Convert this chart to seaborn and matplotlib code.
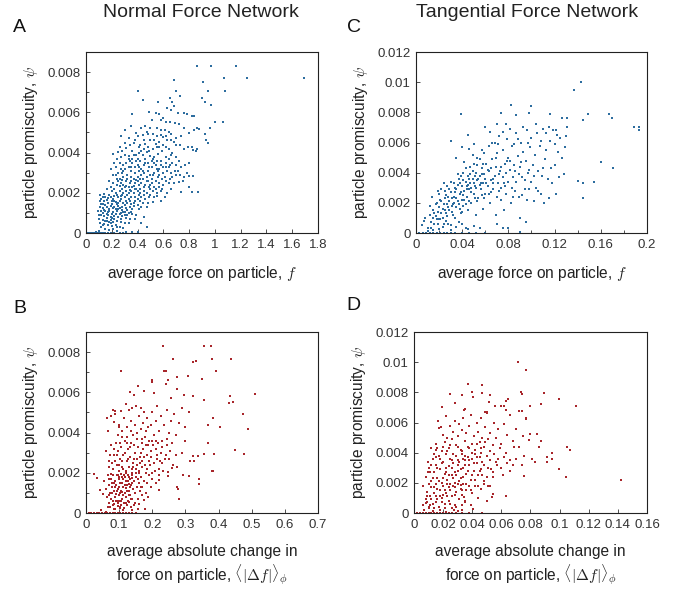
import matplotlib

matplotlib.use("Agg")
import matplotlib.pyplot as plt
import numpy as np
import pandas as pd
import seaborn as sns
from matplotlib.ticker import FuncFormatter, MultipleLocator

myBlue = "#2d6d9f"
myRed = "#a8262b"

# values: (force, promiscuity in units of 1e-3)
normal_force_pts = [
    (0.86, 8.3), (0.97, 8.3), (1.16, 8.3), (1.07, 7.7), (1.25, 7.7), (1.69, 7.7),
    (0.91, 7.5), (0.68, 7.6), (0.40, 7.05), (0.70, 7.05), (0.95, 7.05), (1.08, 7.05),
    (0.44, 6.6), (0.73, 6.8), (0.90, 6.7), (0.92, 6.5), (0.97, 6.35), (0.67, 6.5),
    (0.65, 6.7), (0.63, 6.2), (0.66, 6.1), (0.68, 6.3), (0.56, 6.5), (0.36, 5.9),
    (0.49, 6.0), (0.54, 5.95), (0.57, 5.9), (0.60, 5.7), (0.71, 5.95), (0.76, 5.95),
    (0.78, 5.9), (0.82, 5.8), (0.84, 5.8), (1.00, 5.5), (1.06, 5.5), (0.96, 5.2),
    (0.86, 5.2), (0.84, 5.1), (0.88, 5.15), (0.80, 4.95), (0.76, 5.2), (0.72, 5.4),
    (0.69, 5.45), (0.65, 5.5), (0.62, 5.5), (0.58, 5.6), (0.51, 5.6), (0.46, 5.3),
    (0.43, 5.2), (0.35, 5.3), (0.30, 5.1), (0.27, 4.8), (0.39, 4.95), (0.33, 4.7),
    (0.40, 4.8), (0.44, 4.85), (0.48, 4.9), (0.52, 4.9), (0.55, 4.8), (0.58, 4.85),
    (0.60, 4.75), (0.62, 4.8), (0.63, 4.6), (0.66, 4.6), (0.68, 4.55), (0.70, 4.4),
    (0.73, 4.4), (0.76, 4.2), (0.82, 4.3), (0.83, 4.15), (0.85, 4.1), (0.86, 4.2),
    (0.92, 4.9), (0.93, 4.6), (0.95, 4.5), (0.57, 4.55), (0.54, 4.45), (0.50, 4.6),
    (0.46, 4.45), (0.42, 4.4), (0.37, 4.5), (0.34, 4.4), (0.31, 4.25), (0.28, 4.1),
    (0.25, 4.05), (0.21, 3.95), (0.19, 3.2), (0.22, 3.5), (0.24, 3.7), (0.27, 3.8),
    (0.30, 3.9), (0.33, 3.85), (0.36, 3.7), (0.39, 3.9), (0.41, 4.0), (0.44, 3.9),
    (0.47, 4.05), (0.50, 3.85), (0.53, 3.8), (0.56, 3.95), (0.59, 4.1), (0.62, 3.8),
    (0.64, 3.7), (0.67, 3.5), (0.70, 3.4), (0.74, 3.3), (0.77, 3.4), (0.80, 3.5),
    (0.70, 2.9), (0.73, 2.9), (0.76, 2.8), (0.80, 2.85), (0.83, 2.85), (0.72, 2.55),
    (0.75, 2.6), (0.80, 2.3), (0.74, 2.05), (0.82, 2.05), (0.87, 2.05), (0.66, 2.2),
    (0.63, 2.0), (0.61, 1.8), (0.58, 1.6), (0.55, 1.85), (0.52, 1.55), (0.47, 1.3),
    (0.45, 0.8), (0.43, 0.5), (0.36, 3.5), (0.38, 3.3), (0.40, 3.4), (0.42, 3.6),
    (0.45, 3.4), (0.48, 3.5), (0.51, 3.3), (0.54, 3.4), (0.57, 3.2), (0.60, 3.3),
    (0.63, 3.1), (0.66, 3.0), (0.58, 3.6), (0.55, 3.6), (0.52, 3.7), (0.46, 3.7),
    (0.43, 3.2), (0.41, 3.1), (0.38, 3.0), (0.35, 3.1), (0.33, 3.3), (0.31, 3.5),
    (0.29, 3.4), (0.27, 3.2), (0.25, 3.0), (0.23, 2.9), (0.26, 2.7), (0.29, 2.8),
    (0.32, 2.9), (0.35, 2.8), (0.37, 2.7), (0.40, 2.8), (0.43, 2.9), (0.45, 3.0),
    (0.48, 3.1), (0.50, 2.9), (0.53, 3.0), (0.56, 2.8), (0.59, 2.7), (0.62, 2.6),
    (0.65, 2.7), (0.68, 2.5), (0.60, 2.4), (0.57, 2.5), (0.54, 2.6), (0.51, 2.5),
    (0.48, 2.6), (0.46, 2.4), (0.43, 2.5), (0.41, 2.4), (0.38, 2.5), (0.36, 2.3),
    (0.34, 2.5), (0.31, 2.6), (0.29, 2.4), (0.27, 2.5), (0.24, 2.4), (0.22, 2.2),
    (0.20, 2.1), (0.23, 2.0), (0.26, 2.1), (0.28, 2.2), (0.31, 2.1), (0.33, 2.0),
    (0.35, 2.1), (0.37, 2.0), (0.40, 2.1), (0.42, 2.2), (0.45, 2.1), (0.47, 2.0),
    (0.50, 2.2), (0.52, 2.1), (0.55, 2.0), (0.58, 2.1), (0.49, 1.8), (0.46, 1.7),
    (0.43, 1.8), (0.40, 1.7), (0.38, 1.8), (0.35, 1.8), (0.33, 1.7), (0.30, 1.8),
    (0.28, 1.9), (0.25, 1.8), (0.22, 1.85), (0.19, 1.8), (0.17, 1.75), (0.15, 1.8),
    (0.13, 1.8), (0.11, 1.6), (0.14, 1.6), (0.17, 1.5), (0.20, 1.6), (0.23, 1.55),
    (0.26, 1.6), (0.29, 1.5), (0.32, 1.5), (0.35, 1.45), (0.37, 1.5), (0.40, 1.4),
    (0.43, 1.3), (0.34, 1.3), (0.31, 1.25), (0.28, 1.3), (0.25, 1.35), (0.22, 1.3),
    (0.19, 1.35), (0.16, 1.3), (0.13, 1.25), (0.12, 1.1), (0.15, 1.1), (0.18, 1.1),
    (0.21, 1.05), (0.24, 1.1), (0.27, 1.0), (0.30, 1.05), (0.33, 1.0), (0.36, 0.95),
    (0.39, 0.9), (0.12, 0.9), (0.14, 0.85), (0.17, 0.9), (0.19, 0.8), (0.22, 0.85),
    (0.25, 0.8), (0.28, 0.85), (0.31, 0.75), (0.34, 0.7), (0.13, 0.65), (0.16, 0.6),
    (0.19, 0.65), (0.21, 0.55), (0.24, 0.6), (0.27, 0.55), (0.30, 0.5), (0.33, 0.5),
    (0.14, 0.45), (0.17, 0.4), (0.20, 0.35), (0.23, 0.4), (0.26, 0.3), (0.29, 0.25),
    (0.12, 0.3), (0.15, 0.2), (0.18, 0.15), (0.21, 0.2), (0.24, 0.1), (0.10, 0.1),
    (0.08, 0.05), (0.31, 0.05), (0.36, 0.05), (0.40, 0.05), (0.47, 0.3),
    (0.11, 1.9), (0.12, 1.7), (0.13, 1.45), (0.14, 1.95), (0.16, 1.65), (0.18, 1.9),
    (0.18, 1.2), (0.19, 0.5), (0.20, 1.45), (0.20, 0.95), (0.21, 1.7), (0.22, 0.7),
    (0.23, 1.2), (0.24, 1.9), (0.24, 0.3), (0.25, 1.5), (0.26, 0.95), (0.27, 1.7),
    (0.27, 0.7), (0.28, 1.15), (0.29, 2.0), (0.30, 0.9), (0.30, 1.4), (0.32, 1.9),
    (0.32, 1.15), (0.33, 2.3), (0.34, 1.6), (0.16, 0.75), (0.15, 1.4), (0.17, 1.05),
    (0.13, 1.0), (0.11, 0.5), (0.10, 0.7), (0.09, 1.1), (0.22, 1.6), (0.25, 1.2),
    (0.36, 1.2), (0.38, 1.6), (0.39, 2.2), (0.41, 1.9), (0.44, 1.5), (0.44, 2.7),
    (0.47, 2.8), (0.49, 2.3), (0.51, 2.7), (0.53, 2.3), (0.55, 3.2), (0.57, 2.9),
    (0.60, 3.0), (0.62, 3.5), (0.64, 3.3), (0.66, 3.9), (0.34, 3.6), (0.37, 3.9),
    (0.40, 3.7), (0.43, 4.1), (0.45, 4.2), (0.48, 4.3), (0.52, 4.2), (0.55, 4.3),
    (0.60, 4.4), (0.64, 4.2), (0.67, 4.0), (0.70, 3.8), (0.72, 3.6), (0.61, 5.1),
    (0.64, 5.0), (0.66, 4.9), (0.55, 5.2), (0.50, 5.2), (0.47, 5.0), (0.38, 4.6),
    (0.30, 4.5), (0.26, 4.3),
    (0.16, 2.2), (0.18, 2.6), (0.19, 2.3), (0.21, 2.5), (0.21, 2.9), (0.23, 3.3),
    (0.24, 2.7), (0.26, 3.5), (0.28, 3.0), (0.30, 2.3), (0.30, 3.2), (0.32, 2.7),
    (0.33, 3.7), (0.35, 2.6), (0.36, 4.1), (0.38, 2.2), (0.39, 3.6), (0.40, 2.6),
    (0.41, 3.3), (0.42, 2.0), (0.44, 3.1), (0.45, 2.3), (0.46, 3.5), (0.47, 2.6),
    (0.49, 3.3), (0.50, 2.4), (0.51, 3.6), (0.52, 2.9), (0.53, 3.5), (0.54, 2.2),
    (0.56, 3.1), (0.57, 2.3), (0.58, 3.4), (0.59, 2.2), (0.61, 2.8), (0.62, 3.3),
    (0.64, 2.5), (0.65, 3.4), (0.67, 2.8), (0.69, 3.1), (0.71, 3.1), (0.78, 3.0),
    (0.16, 0.95), (0.18, 0.55), (0.20, 0.75), (0.21, 1.25), (0.23, 0.95), (0.24, 1.45),
    (0.26, 1.25), (0.27, 1.85), (0.29, 1.05), (0.31, 1.6), (0.32, 0.9), (0.35, 1.05),
    (0.37, 1.35), (0.38, 0.7), (0.41, 1.2), (0.42, 1.6), (0.45, 1.9), (0.48, 1.5),
    (0.50, 1.9), (0.53, 1.8), (0.15, 0.6), (0.13, 0.4), (0.11, 1.3), (0.10, 0.9),
    (0.12, 1.45), (0.14, 1.15), (0.26, 2.35), (0.28, 2.65), (0.31, 2.35), (0.34, 2.15),
    (0.37, 2.35), (0.39, 2.65), (0.42, 2.7), (0.35, 3.3), (0.29, 3.1), (0.25, 2.6),
    (0.41, 4.3), (0.49, 4.1), (0.53, 4.6), (0.57, 4.3), (0.62, 4.3), (0.58, 5.1),
    (0.70, 4.7), (0.74, 4.8), (0.79, 4.3), (0.45, 4.6),
    (0.00, 0), (0.01, 0), (0.02, 0), (0.03, 0), (0.04, 0), (0.05, 0), (0.06, 0),
    (0.07, 0), (0.08, 0), (0.09, 0), (0.10, 0), (0.11, 0), (0.12, 0), (0.13, 0),
    (0.14, 0), (0.15, 0), (0.17, 0), (0.19, 0), (0.22, 0), (0.26, 0), (0.29, 0),
]

tangential_force_pts = [
    (0.143, 10.0), (0.137, 9.45), (0.167, 7.87), (0.170, 7.6), (0.189, 7.05),
    (0.193, 7.05), (0.193, 6.8), (0.149, 7.9), (0.145, 7.5), (0.131, 7.6),
    (0.126, 7.6), (0.116, 7.9), (0.100, 8.4), (0.082, 8.5), (0.098, 7.95),
    (0.087, 7.8), (0.074, 7.95), (0.039, 7.87), (0.160, 4.68), (0.171, 4.29),
    (0.154, 3.36), (0.140, 3.45), (0.145, 3.34), (0.145, 2.33), (0.131, 7.05),
    (0.129, 5.7), (0.123, 5.4), (0.125, 6.3), (0.121, 6.8), (0.120, 5.9),
    (0.005, 0.5), (0.008, 1.0), (0.010, 0.3), (0.012, 1.2), (0.013, 0.7),
    (0.015, 1.5), (0.015, 0.2), (0.017, 1.1), (0.018, 2.0), (0.019, 0.6),
    (0.020, 1.7), (0.020, 2.6), (0.021, 0.9), (0.022, 1.3), (0.022, 2.9),
    (0.023, 0.4), (0.024, 1.9), (0.025, 1.5), (0.025, 2.3), (0.026, 0.8),
    (0.027, 3.1), (0.027, 1.1), (0.028, 1.7), (0.029, 2.1), (0.030, 2.7),
    (0.030, 0.5), (0.031, 1.4), (0.032, 1.9), (0.033, 3.3), (0.033, 2.4),
    (0.034, 1.0), (0.035, 2.9), (0.035, 1.7), (0.036, 2.1), (0.037, 3.6),
    (0.037, 0.7), (0.038, 2.6), (0.039, 1.3), (0.040, 3.1), (0.040, 2.2),
    (0.041, 4.0), (0.041, 1.8), (0.042, 2.8), (0.043, 3.4), (0.043, 0.3),
    (0.044, 2.4), (0.045, 3.8), (0.045, 1.5), (0.046, 2.9), (0.047, 4.4),
    (0.047, 3.3), (0.048, 2.0), (0.049, 3.6), (0.050, 2.6), (0.050, 4.6),
    (0.051, 3.1), (0.052, 1.2), (0.052, 4.0), (0.053, 3.5), (0.054, 2.3),
    (0.055, 4.9), (0.055, 3.8), (0.056, 2.9), (0.057, 4.3), (0.058, 3.3),
    (0.058, 1.6), (0.059, 5.3), (0.060, 3.6), (0.060, 2.6), (0.061, 4.6),
    (0.062, 3.1), (0.063, 5.8), (0.063, 4.1), (0.064, 2.0), (0.065, 3.5),
    (0.066, 4.9), (0.067, 2.9), (0.068, 6.0), (0.068, 3.8), (0.069, 4.4),
    (0.070, 2.4), (0.070, 5.3), (0.071, 3.3), (0.072, 6.4), (0.073, 4.1),
    (0.074, 3.0), (0.075, 5.5), (0.075, 3.7), (0.076, 1.5), (0.077, 4.6),
    (0.078, 2.6), (0.079, 6.2), (0.080, 3.4), (0.080, 5.0), (0.081, 4.2),
    (0.082, 2.0), (0.083, 5.8), (0.084, 3.7), (0.085, 4.5), (0.086, 2.8),
    (0.087, 6.6), (0.088, 5.1), (0.089, 3.9), (0.090, 1.0), (0.090, 4.4),
    (0.091, 6.0), (0.092, 2.5), (0.093, 5.4), (0.094, 3.5), (0.095, 4.8),
    (0.096, 6.8), (0.097, 4.0), (0.098, 2.9), (0.099, 5.7), (0.100, 3.4),
    (0.100, 6.3), (0.101, 4.5), (0.102, 2.1), (0.103, 5.2), (0.104, 3.0),
    (0.105, 6.6), (0.106, 4.1), (0.107, 5.8), (0.108, 2.6), (0.109, 3.8),
    (0.110, 6.9), (0.111, 2.0), (0.112, 4.9), (0.113, 5.5), (0.114, 3.6),
    (0.115, 2.3), (0.116, 6.1), (0.117, 4.3), (0.118, 3.3), (0.119, 6.8),
    (0.120, 4.5), (0.121, 2.6), (0.122, 6.5), (0.124, 3.7), (0.126, 5.0),
    (0.128, 3.9), (0.130, 6.4), (0.030, 6.1), (0.035, 5.0), (0.040, 5.7),
    (0.042, 4.7), (0.045, 6.5), (0.046, 5.6), (0.049, 5.2), (0.050, 5.9),
    (0.053, 5.0), (0.057, 5.5), (0.060, 7.0), (0.064, 6.7), (0.066, 6.0),
    (0.070, 7.2), (0.071, 5.9), (0.075, 6.7), (0.078, 7.2), (0.081, 6.9),
    (0.085, 5.9), (0.088, 6.2), (0.093, 7.0), (0.097, 6.0), (0.104, 7.2),
    (0.108, 6.1), (0.113, 6.6), (0.115, 7.0), (0.060, 0.0), (0.070, 0.6),
    (0.075, 0.35), (0.080, 0.3), (0.090, 0.05), (0.095, 0.7), (0.012, 1.8),
    (0.014, 2.4), (0.016, 1.3), (0.018, 0.9), (0.019, 2.8), (0.021, 2.2),
    (0.023, 1.6), (0.024, 3.3), (0.026, 2.5), (0.027, 1.9), (0.028, 0.6),
    (0.029, 2.9), (0.031, 2.3), (0.032, 1.2), (0.034, 2.7), (0.036, 3.2),
    (0.038, 1.6), (0.039, 3.8), (0.041, 2.5), (0.043, 1.9), (0.044, 3.1),
    (0.046, 3.6), (0.048, 2.7), (0.051, 3.8), (0.053, 2.1), (0.055, 3.2),
    (0.057, 3.9), (0.059, 2.3), (0.062, 4.2), (0.065, 2.7), (0.067, 3.6),
    (0.069, 1.2), (0.072, 3.9), (0.074, 2.2), (0.077, 3.1), (0.079, 4.8),
    (0.083, 3.0), (0.086, 4.1), (0.089, 2.4), (0.092, 3.7), (0.096, 2.2),
    (0.015, 1.0), (0.017, 1.9), (0.019, 1.4), (0.020, 0.9), (0.022, 2.1),
    (0.023, 1.0), (0.025, 2.8), (0.026, 1.3), (0.028, 2.4), (0.029, 1.5),
    (0.030, 3.4), (0.031, 1.8), (0.033, 2.0), (0.034, 3.0), (0.035, 2.3),
    (0.036, 3.9), (0.037, 1.9), (0.038, 3.3), (0.039, 2.7), (0.040, 1.4),
    (0.041, 3.5), (0.042, 2.2), (0.043, 4.3), (0.044, 2.9), (0.045, 3.2),
    (0.046, 2.1), (0.047, 3.9), (0.048, 3.0), (0.049, 4.1), (0.050, 3.3),
    (0.051, 2.3), (0.052, 3.0), (0.053, 4.5), (0.054, 3.6), (0.056, 3.3),
    (0.057, 2.5), (0.058, 4.6), (0.059, 3.9), (0.061, 3.3), (0.063, 2.6),
    (0.065, 4.3), (0.067, 3.3), (0.069, 5.0), (0.072, 2.8), (0.074, 4.4),
    (0.076, 3.3), (0.078, 4.0), (0.081, 4.8), (0.084, 2.4), (0.087, 3.4),
    (0.091, 4.7), (0.094, 2.9), (0.098, 4.2), (0.102, 3.8), (0.106, 2.8),
    (0.110, 4.3), (0.007, 0.8), (0.010, 0.15), (0.013, 0.35), (0.016, 0.6),
    (0.020, 0.25), (0.024, 0.6), (0.030, 0.2), (0.035, 0.4), (0.040, 0.6),
    (0.045, 0.25), (0.050, 0.45), (0.055, 0.3),
    (0.000, 0), (0.003, 0), (0.006, 0), (0.009, 0), (0.012, 0), (0.015, 0),
    (0.018, 0), (0.021, 0), (0.024, 0), (0.027, 0), (0.030, 0), (0.034, 0),
    (0.040, 0), (0.046, 0), (0.052, 0),
]

normal_change_pts = [
    (0.232, 8.31), (0.357, 8.31), (0.376, 8.31), (0.262, 7.68), (0.380, 7.68),
    (0.438, 7.68), (0.324, 7.5), (0.331, 7.58), (0.105, 7.05), (0.235, 7.05),
    (0.240, 7.05), (0.391, 7.05), (0.307, 6.79), (0.274, 6.77), (0.349, 6.67),
    (0.200, 6.59), (0.200, 6.52), (0.247, 6.59), (0.240, 6.43), (0.158, 6.33),
    (0.175, 6.06), (0.206, 5.98), (0.134, 6.0), (0.145, 5.88), (0.275, 6.16),
    (0.297, 5.88), (0.255, 5.7), (0.323, 5.8), (0.357, 5.63), (0.433, 5.8),
    (0.444, 5.53), (0.431, 5.45), (0.511, 5.9), (0.475, 4.9), (0.489, 4.19),
    (0.449, 3.11), (0.478, 2.93), (0.405, 4.29), (0.382, 4.72), (0.367, 4.37),
    (0.367, 3.46), (0.384, 2.1), (0.379, 2.1), (0.340, 1.69), (0.341, 1.42),
    (0.386, 2.93), (0.355, 2.93), (0.339, 2.83), (0.323, 2.83), (0.326, 2.57),
    (0.314, 2.57), (0.282, 0.7), (0.279, 1.19), (0.274, 1.31), (0.294, 1.87),
    (0.312, 1.85), (0.274, 2.3), (0.258, 2.24), (0.247, 2.02), (0.248, 1.85),
    (0.221, 1.62), (0.220, 1.14), (0.186, 0.81), (0.174, 0.66), (0.177, 0.22),
    (0.138, 0.13), (0.088, 0.18), (0.113, 0.17), (0.156, 0.18), (0.149, 0.5),
    (0.131, 0.56), (0.103, 0.23), (0.023, 1.94), (0.032, 1.74), (0.043, 1.13),
    (0.050, 0.94), (0.060, 3.1), (0.062, 4.72), (0.065, 4.1), (0.084, 4.55),
    (0.088, 5.07), (0.086, 4.9),
    (0.075, 4.8), (0.080, 5.1), (0.098, 4.4), (0.105, 5.05), (0.110, 4.1),
    (0.115, 4.7), (0.120, 5.4), (0.125, 4.3), (0.130, 5.1), (0.135, 4.6),
    (0.140, 5.2), (0.142, 3.9), (0.147, 4.4), (0.150, 5.3), (0.155, 4.0),
    (0.160, 4.8), (0.165, 5.2), (0.168, 3.7), (0.172, 4.5), (0.175, 5.0),
    (0.180, 4.1), (0.185, 4.7), (0.190, 3.6), (0.195, 4.4), (0.200, 5.0),
    (0.205, 3.9), (0.210, 4.6), (0.215, 5.3), (0.220, 4.1), (0.225, 4.8),
    (0.230, 3.6), (0.235, 4.4), (0.245, 5.1), (0.250, 4.0), (0.255, 4.6),
    (0.265, 4.9), (0.270, 3.9), (0.280, 4.5), (0.290, 5.2), (0.300, 4.3),
    (0.310, 5.0), (0.260, 3.5), (0.210, 3.6), (0.170, 3.5),
    (0.060, 3.1), (0.070, 2.6), (0.075, 3.4), (0.080, 2.2), (0.085, 2.9),
    (0.090, 3.5), (0.092, 2.4), (0.097, 3.1), (0.100, 2.1), (0.103, 2.7),
    (0.107, 3.3), (0.110, 2.3), (0.113, 2.9), (0.117, 3.6), (0.120, 2.1),
    (0.123, 2.6), (0.127, 3.2), (0.130, 2.3), (0.133, 2.8), (0.137, 3.5),
    (0.140, 2.0), (0.143, 2.5), (0.147, 3.0), (0.150, 2.2), (0.153, 2.7),
    (0.157, 3.3), (0.160, 2.1), (0.163, 2.5), (0.167, 3.0), (0.170, 2.3),
    (0.175, 2.8), (0.180, 3.4), (0.185, 2.2), (0.190, 2.6), (0.195, 3.1),
    (0.200, 2.0), (0.205, 2.5), (0.210, 3.2), (0.215, 2.7), (0.220, 2.2),
    (0.225, 3.0), (0.230, 2.5), (0.240, 2.9), (0.245, 3.4), (0.250, 2.7),
    (0.270, 2.9), (0.290, 3.0), (0.300, 3.6), (0.180, 2.0), (0.160, 2.0),
    (0.120, 2.0),
    (0.055, 1.6), (0.060, 1.2), (0.063, 0.8), (0.065, 1.9), (0.068, 1.4),
    (0.070, 0.5), (0.072, 1.0), (0.074, 1.7), (0.076, 0.7), (0.078, 1.3),
    (0.080, 1.9), (0.082, 0.4), (0.084, 1.1), (0.086, 1.6), (0.088, 0.8),
    (0.090, 1.4), (0.092, 1.9), (0.094, 0.6), (0.096, 1.2), (0.098, 1.7),
    (0.100, 0.9), (0.102, 1.5), (0.104, 0.3), (0.106, 1.1), (0.108, 1.8),
    (0.110, 0.7), (0.112, 1.3), (0.114, 1.9), (0.116, 0.5), (0.118, 1.0),
    (0.120, 1.6), (0.122, 0.8), (0.124, 1.4), (0.126, 1.9), (0.128, 0.6),
    (0.130, 1.1), (0.132, 1.7), (0.134, 0.9), (0.136, 1.4), (0.138, 1.9),
    (0.140, 0.7), (0.142, 1.2), (0.145, 1.6), (0.148, 1.0), (0.150, 1.8),
    (0.153, 1.3), (0.156, 0.7), (0.160, 1.5), (0.163, 1.1), (0.167, 1.8),
    (0.170, 1.3), (0.175, 1.6), (0.180, 1.0), (0.185, 1.5), (0.190, 1.9),
    (0.195, 1.3), (0.200, 1.7), (0.210, 1.5), (0.220, 1.9), (0.085, 0.2),
    (0.095, 0.35), (0.115, 0.25), (0.125, 0.4), (0.135, 0.3), (0.075, 1.95),
    (0.090, 0.95), (0.100, 1.3), (0.110, 1.05), (0.120, 1.25), (0.130, 1.45),
    (0.105, 1.95), (0.140, 1.75), (0.080, 0.6), (0.095, 0.5), (0.065, 0.3),
    (0.045, 0.15), (0.060, 0.05), (0.160, 0.45),
    (0.068, 1.7), (0.072, 0.3), (0.077, 1.5), (0.079, 1.0), (0.083, 1.5),
    (0.087, 1.3), (0.091, 0.6), (0.093, 1.1), (0.097, 1.9), (0.099, 0.6),
    (0.101, 1.8), (0.103, 1.0), (0.107, 0.6), (0.109, 1.5), (0.111, 1.7),
    (0.113, 0.9), (0.117, 1.4), (0.119, 1.8), (0.121, 0.5), (0.123, 1.1),
    (0.127, 1.6), (0.129, 0.9), (0.131, 1.8), (0.133, 1.3), (0.137, 0.7),
    (0.139, 1.5), (0.141, 2.3), (0.146, 2.7), (0.151, 2.0), (0.155, 2.4),
    (0.158, 1.7), (0.162, 2.8), (0.165, 1.3), (0.169, 2.6), (0.173, 3.2),
    (0.178, 2.4), (0.183, 2.9), (0.188, 3.4), (0.192, 2.4), (0.197, 2.8),
    (0.203, 3.4), (0.208, 2.1), (0.213, 2.9), (0.218, 3.5), (0.223, 2.6),
    (0.228, 3.3), (0.233, 2.1), (0.238, 2.7), (0.243, 3.7), (0.253, 3.1),
    (0.263, 2.4), (0.068, 2.3), (0.073, 2.9), (0.078, 2.5), (0.083, 3.2),
    (0.088, 2.6), (0.093, 2.9), (0.098, 2.4), (0.103, 3.5), (0.108, 2.6),
    (0.113, 2.2), (0.118, 3.0), (0.123, 3.8), (0.128, 2.7), (0.133, 3.3),
    (0.138, 2.2), (0.095, 3.9), (0.100, 4.3), (0.108, 3.8), (0.125, 3.5),
    (0.135, 4.1), (0.145, 3.4), (0.155, 3.7), (0.165, 4.2), (0.178, 3.8),
    (0.188, 4.3), (0.198, 3.6), (0.070, 0.9), (0.085, 0.45), (0.105, 0.4),
    (0.145, 0.4), (0.170, 0.9),
    (0.000, 0), (0.008, 0), (0.016, 0), (0.024, 0), (0.032, 0), (0.040, 0),
    (0.048, 0), (0.056, 0), (0.064, 0), (0.072, 0), (0.080, 0), (0.088, 0),
    (0.096, 0), (0.104, 0), (0.112, 0), (0.120, 0), (0.130, 0), (0.140, 0),
    (0.150, 0),
]

tangential_change_pts = [
    (0.0711, 10.02), (0.0766, 9.5), (0.0371, 8.53), (0.0465, 8.46), (0.0399, 8.0),
    (0.0470, 7.93), (0.0522, 7.82), (0.0245, 7.91), (0.0332, 7.82), (0.0408, 7.67),
    (0.0518, 7.36), (0.0738, 8.0), (0.0745, 7.91), (0.0894, 7.93), (0.0997, 7.58),
    (0.1110, 7.12), (0.0871, 7.21), (0.0798, 7.12), (0.0195, 7.03), (0.0280, 7.32),
    (0.0353, 6.92), (0.0346, 6.86), (0.0486, 6.68), (0.0502, 6.73), (0.0555, 7.12),
    (0.0600, 7.12), (0.0620, 7.12), (0.0646, 7.56), (0.0635, 7.45), (0.0632, 6.84),
    (0.0720, 6.77), (0.0740, 6.75), (0.0768, 6.33), (0.0768, 6.22), (0.0800, 5.25),
    (0.0846, 5.25), (0.0871, 4.75), (0.0857, 4.4), (0.0788, 4.84), (0.0947, 3.96),
    (0.0951, 3.6), (0.0912, 3.71), (0.0912, 3.41), (0.1050, 4.35), (0.1070, 4.15),
    (0.0997, 2.92), (0.1047, 2.37), (0.1419, 2.2), (0.0834, 3.41), (0.0811, 3.6),
    (0.0756, 2.46), (0.0756, 3.78), (0.0743, 3.19), (0.0633, 1.14), (0.0543, 1.27),
    (0.0536, 1.08), (0.0504, 0.81), (0.0541, 2.37), (0.0520, 1.8), (0.0507, 1.78),
    (0.0465, 0.02), (0.0403, 0.24), (0.0390, 0.53), (0.0353, 0.79), (0.0342, 1.08),
    (0.0332, 0.18), (0.0277, 0.18), (0.0060, 1.76), (0.0092, 1.16), (0.0092, 0.75),
    (0.0083, 0.64), (0.0105, 0.42), (0.0069, 0.2), (0.0096, 3.36), (0.0096, 2.73),
    (0.0151, 3.69), (0.0154, 4.15), (0.0170, 5.63), (0.0167, 6.11), (0.0183, 5.69),
    (0.012, 4.3), (0.015, 4.6), (0.019, 4.1), (0.020, 5.2), (0.021, 4.7),
    (0.022, 6.4), (0.023, 5.0), (0.024, 4.3), (0.025, 5.8), (0.026, 4.9),
    (0.027, 5.4), (0.028, 6.1), (0.029, 4.5), (0.030, 5.1), (0.031, 5.9),
    (0.032, 4.2), (0.033, 5.5), (0.034, 6.3), (0.035, 4.8), (0.036, 5.3),
    (0.037, 4.4), (0.038, 5.8), (0.039, 6.5), (0.040, 4.6), (0.041, 5.1),
    (0.042, 4.2), (0.043, 6.0), (0.044, 5.4), (0.045, 4.7), (0.046, 6.3),
    (0.047, 5.0), (0.048, 4.4), (0.049, 5.7), (0.050, 6.6), (0.051, 4.9),
    (0.052, 5.3), (0.054, 4.5), (0.055, 6.0), (0.056, 5.0), (0.058, 5.6),
    (0.060, 4.6), (0.062, 5.9), (0.064, 5.2), (0.066, 6.5), (0.068, 4.8),
    (0.070, 5.6), (0.072, 4.4), (0.075, 5.1),
    (0.008, 2.4), (0.010, 3.0), (0.012, 2.1), (0.013, 3.6), (0.014, 2.7),
    (0.015, 3.2), (0.016, 2.3), (0.017, 3.8), (0.018, 2.9), (0.019, 2.0),
    (0.020, 3.4), (0.021, 2.6), (0.022, 3.9), (0.023, 2.2), (0.024, 3.1),
    (0.025, 3.6), (0.026, 2.5), (0.027, 3.3), (0.028, 2.0), (0.029, 3.8),
    (0.030, 2.8), (0.031, 3.4), (0.032, 2.3), (0.033, 3.9), (0.034, 3.0),
    (0.035, 3.5), (0.036, 2.6), (0.037, 3.7), (0.038, 3.2), (0.039, 2.2),
    (0.040, 3.6), (0.041, 2.8), (0.042, 3.9), (0.043, 3.3), (0.044, 2.5),
    (0.045, 3.7), (0.046, 2.9), (0.047, 3.4), (0.048, 2.1), (0.050, 3.8),
    (0.051, 3.0), (0.052, 3.5), (0.054, 2.7), (0.055, 3.9), (0.057, 3.2),
    (0.058, 3.6), (0.060, 3.0), (0.062, 3.7), (0.064, 3.3), (0.066, 3.5),
    (0.068, 3.2), (0.070, 3.6), (0.026, 3.5), (0.030, 3.5), (0.034, 3.6),
    (0.022, 3.0), (0.028, 2.7),
    (0.006, 0.5), (0.008, 0.9), (0.009, 1.4), (0.010, 0.3), (0.011, 1.1),
    (0.012, 1.7), (0.013, 0.6), (0.014, 1.3), (0.015, 1.9), (0.016, 0.9),
    (0.017, 0.4), (0.018, 1.5), (0.019, 1.0), (0.020, 1.8), (0.021, 0.6),
    (0.022, 1.3), (0.023, 1.9), (0.024, 0.8), (0.025, 1.5), (0.026, 1.1),
    (0.027, 1.8), (0.028, 0.5), (0.029, 1.4), (0.030, 1.9), (0.031, 0.9),
    (0.032, 1.6), (0.033, 1.2), (0.034, 1.9), (0.035, 0.7), (0.036, 1.5),
    (0.038, 1.8), (0.040, 1.3), (0.042, 1.8), (0.044, 1.0), (0.046, 1.6),
    (0.048, 1.9), (0.016, 1.6), (0.020, 1.2), (0.024, 1.75), (0.028, 1.75),
    (0.032, 1.85), (0.018, 0.2), (0.022, 0.1), (0.026, 0.3), (0.030, 0.15),
    (0.014, 0.35),
    (0.010, 1.9), (0.011, 2.7), (0.012, 0.9), (0.013, 2.3), (0.014, 1.7),
    (0.015, 0.7), (0.016, 3.0), (0.017, 2.1), (0.018, 1.1), (0.019, 3.3),
    (0.020, 2.3), (0.021, 1.5), (0.022, 2.7), (0.023, 1.1), (0.024, 2.5),
    (0.025, 1.9), (0.026, 3.0), (0.027, 2.3), (0.028, 1.2), (0.029, 2.5),
    (0.030, 3.2), (0.031, 2.1), (0.032, 2.9), (0.033, 1.5), (0.034, 2.4),
    (0.035, 3.2), (0.036, 1.9), (0.037, 2.8), (0.038, 3.5), (0.039, 1.5),
    (0.040, 2.5), (0.041, 3.3), (0.042, 2.2), (0.043, 3.7), (0.044, 1.8),
    (0.045, 2.8), (0.046, 4.0), (0.047, 2.5), (0.048, 3.2), (0.050, 2.4),
    (0.052, 4.1), (0.053, 2.9), (0.056, 3.4), (0.059, 4.3), (0.061, 2.5),
    (0.063, 4.0), (0.066, 2.8), (0.069, 4.4), (0.012, 3.2), (0.014, 3.9),
    (0.016, 4.3), (0.018, 3.6), (0.020, 4.4), (0.023, 4.1), (0.025, 4.5),
    (0.027, 3.9), (0.030, 4.4), (0.033, 4.1), (0.035, 3.8), (0.038, 4.3),
    (0.040, 4.0), (0.043, 4.6), (0.046, 4.3), (0.049, 4.7), (0.011, 0.5),
    (0.013, 0.15), (0.015, 1.1), (0.019, 0.7), (0.021, 0.3), (0.025, 0.6),
    (0.029, 0.4), (0.033, 0.5),
    (0.000, 0), (0.002, 0), (0.004, 0), (0.006, 0), (0.008, 0), (0.010, 0),
    (0.012, 0), (0.014, 0), (0.016, 0), (0.018, 0), (0.020, 0), (0.022, 0),
    (0.024, 0), (0.026, 0), (0.029, 0), (0.033, 0), (0.038, 0),
]

panel_titles = ["Normal Force Network", "Tangential Force Network"]
panel_letters = ["A", "C", "B", "D"]
psi_label = r"particle promiscuity, $\psi$"
force_label = r"average force on particle, $f$"
change_label = "average absolute change in\n" + r"force on particle, $\langle|\Delta f|\rangle_\phi$"

sns.set_style("ticks")
plt.rcParams["font.family"] = ["Liberation Sans", "DejaVu Sans"]
plt.rcParams["mathtext.fontset"] = "cm"
plt.rcParams["axes.linewidth"] = 0.8

fig = plt.figure(figsize=(6.91, 5.89), dpi=100)

# (points, colour, xlim, x major, x minor, ymax, y major, y minor, xlabel, rect)
panels = [
    (normal_force_pts, myBlue, 1.8, 0.2, 0.2, 0.009, 0.002, 0.001, force_label,
     (0.1245, 0.6044, 0.3357, 0.3073)),
    (tangential_force_pts, myBlue, 0.2, 0.04, 0.02, 0.012, 0.002, 0.002, force_label,
     (0.6020, 0.6044, 0.3343, 0.3073)),
    (normal_change_pts, myRed, 0.7, 0.1, 0.1, 0.009, 0.002, 0.001, change_label,
     (0.1245, 0.1290, 0.3357, 0.3073)),
    (tangential_change_pts, myRed, 0.16, 0.02, 0.02, 0.012, 0.002, 0.002, change_label,
     (0.5991, 0.1290, 0.3372, 0.3073)),
]

fmt = FuncFormatter(lambda v, _: "0" if abs(v) < 1e-12 else f"{v:g}")

for pts, col, xmax, xmaj, xmin, ymax, ymaj, ymin, xlab, rect in panels:
    ax = fig.add_axes(rect)
    df = pd.DataFrame(pts, columns=["force", "psi"])
    df["psi"] = df["psi"] * 1e-3
    sns.scatterplot(
        data=df, x="force", y="psi", ax=ax, color=col, s=4,
        marker="s", linewidth=0, legend=False,
    )
    ax.set_xlim(0, xmax)
    ax.set_ylim(0, ymax)
    ax.xaxis.set_major_locator(MultipleLocator(xmaj))
    ax.xaxis.set_minor_locator(MultipleLocator(xmin))
    ax.yaxis.set_major_locator(MultipleLocator(ymaj))
    ax.yaxis.set_minor_locator(MultipleLocator(ymin))
    ax.xaxis.set_major_formatter(fmt)
    ax.yaxis.set_major_formatter(fmt)
    ax.tick_params(which="both", direction="in", colors="#333333", labelsize=9.5,
                   top=False, right=False)
    ax.tick_params(which="major", length=3, width=0.6, pad=4)
    ax.tick_params(which="minor", length=2.5, width=0.6)
    for sp in ax.spines.values():
        sp.set_color("#222222")
    ax.set_xlabel(xlab, fontsize=11.2, color="#222222", labelpad=10,
                  linespacing=1.2)
    ax.set_ylabel(psi_label, fontsize=11.2, color="#222222", labelpad=5)

fig.text(0.291, 0.979, panel_titles[0], ha="center", va="center", fontsize=14,
         color="#222222")
fig.text(0.763, 0.979, panel_titles[1], ha="center", va="center", fontsize=14,
         color="#222222")
for letter, (px, py) in zip(panel_letters, [(19, 27), (354, 27), (20, 308), (353, 306)]):
    fig.text(px / 691, 1 - py / 589, letter, ha="center", va="center",
             fontsize=14, color="#111111")

fig.savefig("out.png", dpi=100)
